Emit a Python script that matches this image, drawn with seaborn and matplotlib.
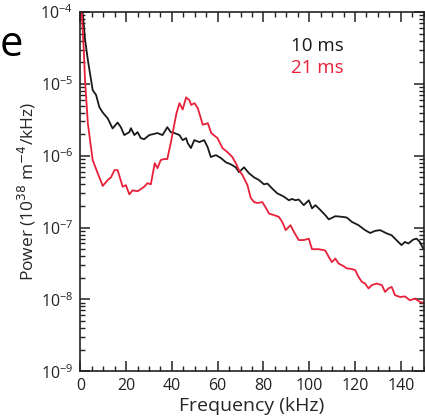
import matplotlib
matplotlib.use("Agg")
import matplotlib.pyplot as plt
from matplotlib.ticker import FixedLocator, MultipleLocator, NullFormatter, LogFormatterSciNotation
import numpy as np
import pandas as pd
import seaborn as sns

# Power spectra at two times (frequency in kHz, power in 1e38 m^-4/kHz)
freq_10ms = [1.0, 2.1, 3.3, 5.4, 6.9, 8.3, 9.8, 12.0, 14.1, 16.3, 17.7, 19.2, 21.4, 22.1,
             23.6, 25.0, 26.4, 27.9, 30.1, 33.7, 35.9, 38.0, 39.5, 41.1, 43.3, 44.7, 46.2,
             46.9, 48.3, 49.8, 52.0, 54.1, 55.6, 57.0, 59.2, 61.4, 63.6, 65.7, 67.9, 69.3,
             71.5, 73.7, 75.9, 78.0, 80.2, 81.7, 83.8, 86.0, 88.9, 91.1, 92.5, 94.0, 95.4,
             97.6, 99.8, 101.2, 102.7, 104.9, 107.0, 108.5, 111.4, 114.3, 116.4, 118.6,
             121.5, 124.4, 126.6, 128.8, 131.0, 133.8, 136.0, 138.9, 140.3, 141.8, 143.3,
             145.4, 146.9, 148.3, 149.8]
power_10ms = [1.0e-4, 4.07e-5, 2.14e-5, 8.2e-6, 7.0e-6, 4.75e-6, 4.0e-6, 3.3e-6, 2.4e-6,
              2.9e-6, 2.5e-6, 1.94e-6, 2.13e-6, 2.42e-6, 1.94e-6, 2.13e-6, 1.76e-6, 1.70e-6,
              1.94e-6, 2.07e-6, 1.94e-6, 2.5e-6, 2.13e-6, 2.07e-6, 1.94e-6, 1.65e-6, 1.76e-6,
              1.5e-6, 1.28e-6, 1.65e-6, 1.55e-6, 1.65e-6, 1.32e-6, 9.6e-7, 1.02e-6, 9.3e-7,
              8.1e-7, 7.6e-7, 6.9e-7, 5.9e-7, 6.9e-7, 5.7e-7, 5.0e-7, 4.6e-7, 4.0e-7, 4.1e-7,
              3.5e-7, 3.0e-7, 2.7e-7, 2.4e-7, 2.5e-7, 2.4e-7, 2.46e-7, 2.05e-7, 2.4e-7,
              1.85e-7, 2.05e-7, 1.75e-7, 1.49e-7, 1.3e-7, 1.44e-7, 1.41e-7, 1.38e-7, 1.2e-7,
              1.08e-7, 9.2e-8, 8.4e-8, 9.0e-8, 9.2e-8, 8.3e-8, 7.8e-8, 6.3e-8, 5.7e-8, 6.3e-8,
              6.0e-8, 6.8e-8, 7.0e-8, 6.3e-8, 5.1e-8]

freq_21ms = [0.5, 1.5, 2.0, 3.3, 5.4, 7.6, 9.8, 12.0, 13.4, 14.9, 16.3, 18.5, 19.9, 21.4,
             22.8, 25.0, 27.9, 29.3, 30.8, 32.5, 33.7, 35.1, 36.6, 38.0, 39.5, 41.1, 42.0,
             43.3, 44.7, 46.2, 47.7, 48.4, 49.9, 51.3, 53.5, 55.7, 57.2, 59.9, 62.1, 64.3,
             66.4, 67.9, 69.3, 70.8, 73.0, 74.4, 75.9, 77.3, 79.5, 80.9, 82.4, 84.6, 86.7,
             88.2, 89.7, 91.8, 93.3, 95.4, 97.6, 99.8, 101.2, 104.1, 107.0, 108.5, 109.9,
             111.4, 112.8, 115.0, 116.4, 118.6, 120.1, 121.5, 123.0, 124.4, 125.9, 127.3,
             129.5, 131.7, 133.1, 134.6, 136.0, 137.5, 139.7, 141.8, 144.0, 146.2, 148.3,
             149.8]
power_21ms = [1.2e-4, 3.0e-5, 1.2e-5, 2.8e-6, 8.7e-7, 5.7e-7, 3.8e-7, 4.6e-7, 5.0e-7,
              6.3e-7, 6.3e-7, 3.7e-7, 3.9e-7, 2.9e-7, 3.3e-7, 3.2e-7, 3.7e-7, 4.15e-7, 4.0e-7,
              7.9e-7, 6.7e-7, 8.7e-7, 9.0e-7, 9.0e-7, 1.5e-6, 2.8e-6, 3.9e-6, 5.4e-6, 4.4e-6,
              6.5e-6, 5.9e-6, 5.1e-6, 5.4e-6, 4.6e-6, 2.7e-6, 2.84e-6, 2.07e-6, 1.76e-6,
              1.28e-6, 1.12e-6, 9.6e-7, 7.9e-7, 6.3e-7, 5.4e-7, 3.9e-7, 2.6e-7, 2.26e-7,
              2.2e-7, 2.26e-7, 1.92e-7, 1.57e-7, 1.49e-7, 1.41e-7, 1.2e-7, 9.2e-8, 1.08e-7,
              8.7e-8, 6.7e-8, 6.7e-8, 7.0e-8, 5.0e-8, 5.0e-8, 4.8e-8, 3.9e-8, 3.3e-8, 3.7e-8,
              3.16e-8, 2.9e-8, 2.7e-8, 2.65e-8, 2.55e-8, 2.06e-8, 1.75e-8, 1.66e-8, 1.42e-8,
              1.58e-8, 1.66e-8, 1.58e-8, 1.27e-8, 1.42e-8, 1.49e-8, 1.14e-8, 1.08e-8, 1.1e-8,
              9.7e-9, 1.03e-8, 9.2e-9, 9.0e-9]

series_labels = ["10 ms", "21 ms"]
series_colors = ["#1a1a1a", "#e8203a"]
x_ticks = [0, 20, 40, 60, 80, 100, 120, 140]
y_decades = [1e-9, 1e-8, 1e-7, 1e-6, 1e-5, 1e-4]

df = pd.concat([
    pd.DataFrame({"freq": freq_10ms, "power": power_10ms, "time": series_labels[0]}),
    pd.DataFrame({"freq": freq_21ms, "power": power_21ms, "time": series_labels[1]}),
], ignore_index=True)

sns.set_style("ticks")
plt.rcParams["font.family"] = ["Open Sans", "DejaVu Sans"]

fig = plt.figure(figsize=(4.25, 4.18), dpi=100)
ax = fig.add_axes([0.189, 0.112, 0.808, 0.859])

sns.lineplot(data=df, x="freq", y="power", hue="time", palette=series_colors,
             linewidth=1.3, legend=False, ax=ax, sort=False, estimator=None)

ax.set_yscale("log")
ax.set_xlim(0, 150)
ax.set_ylim(1e-9, 1e-4)

ax.set_xticks(x_ticks)
ax.set_xticklabels([str(t) for t in x_ticks])
ax.xaxis.set_minor_locator(MultipleLocator(5))

# decade ticks with in-between minor ticks, restricted to the visible range
minor_y = [m * d for d in y_decades[:-1] for m in range(2, 10)]
ax.yaxis.set_major_locator(FixedLocator(y_decades))
ax.yaxis.set_major_formatter(LogFormatterSciNotation())
ax.yaxis.set_minor_locator(FixedLocator(minor_y))
ax.yaxis.set_minor_formatter(NullFormatter())

for side in ["top", "right", "left", "bottom"]:
    ax.spines[side].set_visible(True)
    ax.spines[side].set_linewidth(1.2)
    ax.spines[side].set_color("#222222")

ax.tick_params(which="both", direction="in", top=True, right=True, colors="#222222")
ax.tick_params(which="major", length=7, width=1.1, labelsize=11.5, pad=5)
ax.tick_params(which="minor", length=3.5, width=1.0)

ax.set_xlabel("Frequency (kHz)", fontsize=14, labelpad=2)
ax.set_ylabel("Power (10$^{38}$ m$^{-4}$/kHz)", fontsize=12.5, labelpad=2)

ax.text(0.69, 0.905, series_labels[0], transform=ax.transAxes, color=series_colors[0],
        fontsize=13.5, ha="center", va="center")
ax.text(0.69, 0.845, series_labels[1], transform=ax.transAxes, color=series_colors[1],
        fontsize=13.5, ha="center", va="center")

fig.text(0.0, 0.893, "e", fontsize=30, ha="left", va="center", color="black")

fig.savefig("out.png", dpi=100)
